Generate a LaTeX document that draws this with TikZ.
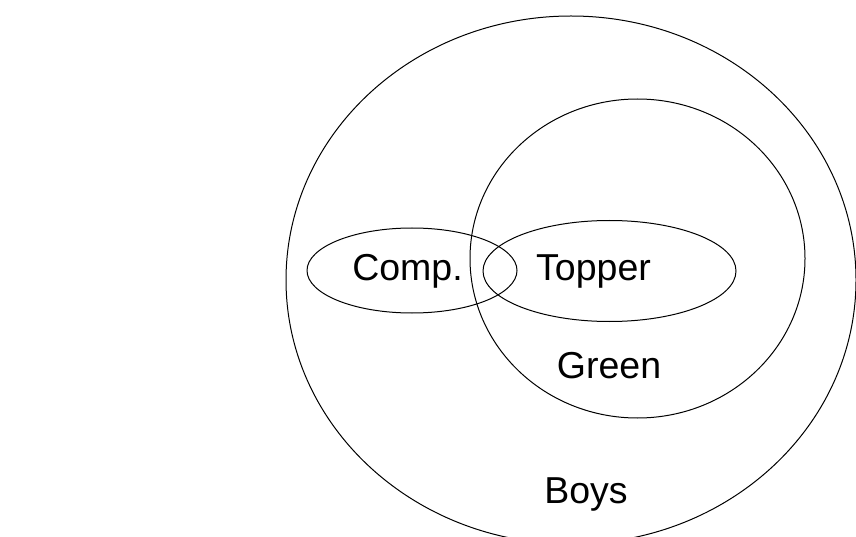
\documentclass[tikz,border=0pt]{standalone}
\usepackage{fontspec}
\setmainfont{Liberation Sans}
\usetikzlibrary{shapes.geometric}
\begin{document}
\begin{tikzpicture}[x=1pt,y=-1pt,
  setshape/.style={ellipse,draw=black,line width=1pt,inner sep=0pt},
  lbl/.style={anchor=base,inner sep=0pt,font=\fontsize{37.5}{40}\selectfont}]
\useasboundingbox (0,0) rectangle (856,537);
\clip (0,0) rectangle (856,537);
\node[setshape,minimum width=570,minimum height=528] (boys) at (571,280) {};
\node[setshape,minimum width=335,minimum height=319] (green) at (637.5,258.5) {};
\node[setshape,minimum width=210,minimum height=85] (comp) at (412,270.5) {};
\node[setshape,minimum width=253,minimum height=101] (topper) at (609.5,271) {};
\node[lbl] (tcomp) at (407.5,280) {Comp.};
\node[lbl] (ttopper) at (593.5,280) {Topper};
\node[lbl] (tgreen) at (609,378) {Green};
\node[lbl] (tboys) at (586,503) {Boys};
\end{tikzpicture}
\end{document}
